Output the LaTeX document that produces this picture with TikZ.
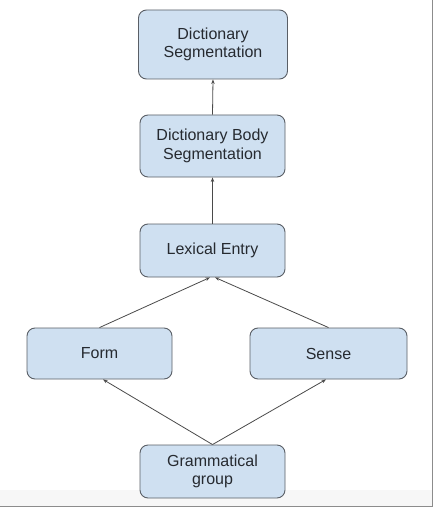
\documentclass[tikz,border=0pt]{standalone}
\usepackage{fontspec}
\setmainfont{Liberation Sans}
\usetikzlibrary{arrows.meta}
\definecolor{boxfill}{HTML}{CFE0F1}
\definecolor{boxline}{HTML}{5A5F66}
\definecolor{txt}{HTML}{262A30}
\definecolor{conn}{HTML}{4A4A4A}
\definecolor{frameline}{HTML}{8C8C8C}
\begin{document}
\begin{tikzpicture}[x=1pt,y=-1pt,
  box/.style={draw=boxline, line width=0.9pt, fill=boxfill, rounded corners=8pt,
    text=txt, align=center, inner sep=0pt,
    font=\fontsize{16}{18.5}\selectfont},
  conn/.style={draw=conn, line width=0.8pt, -{Stealth[length=4.5pt,width=3.5pt]}}]
\useasboundingbox (0,0) rectangle (436,508);
\fill[white] (0,0) rectangle (436,508);
\fill[black!3] (0,490) rectangle (432,506);
\draw[frameline, line width=1.2pt] (0,506.5) -- (432.5,506.5) -- (432.5,0);

\node[box, minimum width=149pt, minimum height=69pt] (dseg) at (213,44.5) {Dictionary\\Segmentation};
\node[box, minimum width=145pt, minimum height=62pt] (dbody) at (212.5,146) {Dictionary Body\\Segmentation};
\node[box, minimum width=145pt, minimum height=53pt] (lex) at (212.5,250.5) {Lexical Entry};
\node[box, minimum width=145pt, minimum height=51pt] (form) at (99.5,353.5) {Form};
\node[box, minimum width=157pt, minimum height=51pt] (sense) at (328.5,353.5) {Sense};
\node[box, minimum width=145pt, minimum height=53pt] (gram) at (212.5,471.5) {Grammatical\\group};

\draw[conn] (dbody.north) -- (dseg.south);
\draw[conn] (lex.north) -- (dbody.south);
\draw[conn] (form.north) -- ([xshift=-2.5pt]lex.south);
\draw[conn] (sense.north) -- ([xshift=2.5pt]lex.south);
\draw[conn] (gram.north) -- ([xshift=3.5pt]form.south);
\draw[conn] (gram.north) -- ([xshift=-2.5pt]sense.south);
\end{tikzpicture}
\end{document}
